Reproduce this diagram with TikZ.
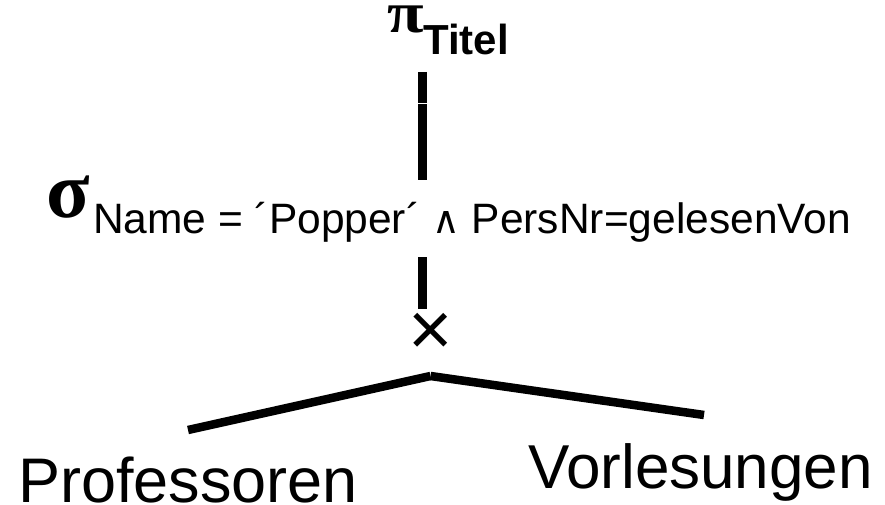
\documentclass[tikz,border=0pt]{standalone}
\usepackage{fontspec}
\setmainfont{Liberation Sans}
\newfontfamily\greekfont{Liberation Serif}
\newfontfamily\symfont{DejaVu Sans}
\begin{document}
\begin{tikzpicture}[x=1pt,y=-1pt,
  edge/.style={line width=8.5pt},
  lbl/.style={inner sep=0pt, anchor=base west},
]
\useasboundingbox (0,0) rectangle (885,505);

% operator labels
\node[lbl] (pi) at (387,33) {\scalebox{1.15}[1]{\greekfont\bfseries\fontsize{58}{58}\selectfont π}};
\node[lbl] (titel) at (423,55) {\fontsize{42}{42}\selectfont\bfseries Titel};
\node[lbl] (sigma) at (46,217) {\scalebox{1.0}[1]{\greekfont\bfseries\fontsize{80}{80}\selectfont σ}};
\node[lbl] (cond) at (93,233) {\fontsize{42.5}{42.5}\selectfont Name = ´Popper´ {\symfont\fontsize{38}{38}\selectfont ∧} PersNr=gelesenVon};
\node[inner sep=0pt] (times) at (430.5,334) {\fontsize{76}{76}\selectfont ×};

% relations
\node[lbl] (prof) at (18,502) {\fontsize{63}{63}\selectfont Professoren};
\node[lbl] (vorl) at (528,488) {\fontsize{62}{62}\selectfont Vorlesungen};

% tree edges
\coordinate (p1) at (422.5,72);
\coordinate (p2) at (422.5,103);
\coordinate (p3) at (422.5,104);
\coordinate (p4) at (422.5,180);
\coordinate (s1) at (422.5,257);
\coordinate (s2) at (422.5,309);
\coordinate (apex) at (430.5,376);
\coordinate (lend) at (188,430);
\coordinate (rend) at (704,415);

\draw[edge] (p1) -- (p2);
\draw[edge] (p3) -- (p4);
\draw[edge] (s1) -- (s2);
\draw[edge] (apex) -- (lend);
\draw[edge] (apex) -- (rend);
\end{tikzpicture}
\end{document}
